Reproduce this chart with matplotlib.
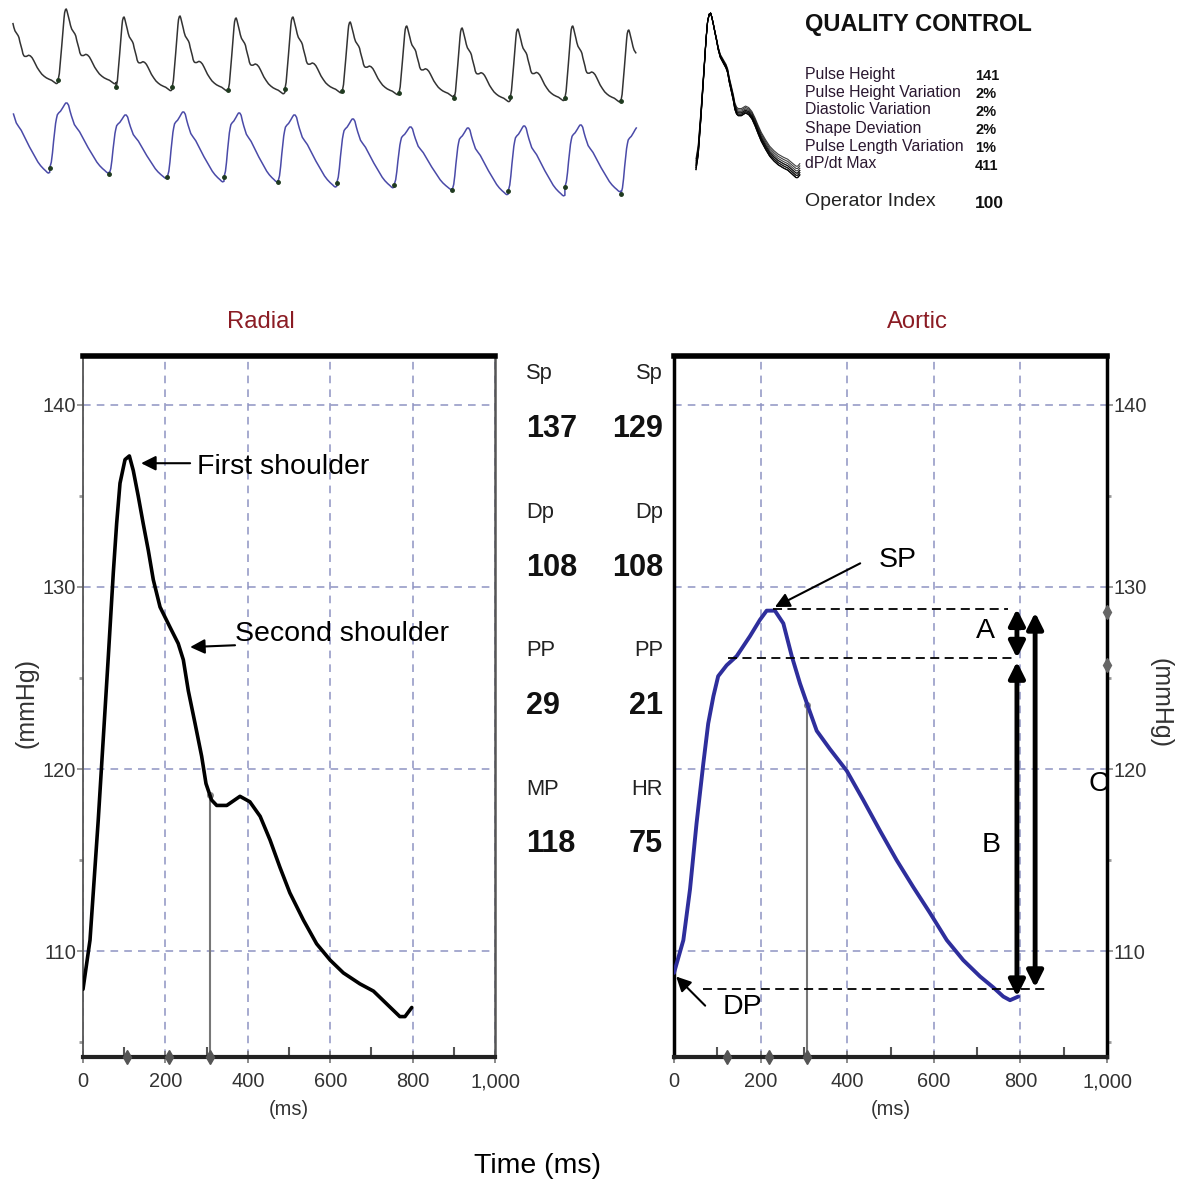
import numpy as np
import matplotlib
matplotlib.use("Agg")
import matplotlib.pyplot as plt
from matplotlib import font_manager
from matplotlib.transforms import blended_transform_factory

# ---------------- data ----------------
# averaged radial pulse (ms, mmHg)
radial_t = [0, 17, 37, 49, 61.5, 73.6, 81.7, 89.8, 102, 112.5, 122, 134, 146, 158.6, 170.6,
            187, 211, 231, 243.5, 255.6, 272, 288, 298.5, 312, 324.5, 349, 381, 405, 430,
            454, 478, 502, 535, 567, 600, 632, 672, 705, 737, 769, 781.5, 798]
radial_p = [107.9, 110.6, 117.2, 121.6, 126.2, 130.8, 133.5, 135.7, 137.0, 137.2, 136.4,
            135.0, 133.5, 132.0, 130.4, 128.9, 127.8, 126.9, 126.0, 124.3, 122.5, 120.7,
            119.2, 118.3, 118.0, 118.0, 118.5, 118.2, 117.4, 116.1, 114.6, 113.2, 111.7,
            110.4, 109.5, 108.8, 108.2, 107.8, 107.1, 106.4, 106.4, 106.9]

# derived aortic pulse (ms, mmHg)
aortic_t = [0, 21.6, 37, 52, 67.7, 79, 91, 102, 121.6, 144.7, 175.5, 198.6, 214, 233,
            252.5, 272, 291, 310, 329.6, 360, 399, 437, 476, 514, 553, 591, 630, 668, 707,
            737.5, 760.5, 776, 795]
aortic_p = [108.8, 110.6, 113.4, 117.0, 120.3, 122.5, 124.0, 125.1, 125.7, 126.2, 127.3,
            128.2, 128.7, 128.7, 128.0, 126.2, 124.7, 123.4, 122.1, 121.1, 119.9, 118.3,
            116.6, 115.0, 113.5, 112.1, 110.6, 109.5, 108.6, 108.0, 107.5, 107.3, 107.5]

radial_marks = [107, 209, 308]
aortic_marks = [122, 219, 308]
aortic_side_marks = [128.6, 125.7]
t1_time = 308

# beat-by-beat strip at the top (foot time in s, foot / peak level)
strip_r_feet_t = [0.83, 1.66, 2.46, 3.26, 4.07, 4.89, 5.70, 6.49, 7.29, 8.07, 8.87]
strip_r_feet_v = [111.6, 108.8, 108.8, 107.6, 108.0, 107.2, 106.4, 104.4, 104.8, 104.4, 103.2]
strip_r_peak_v = [140.0, 136.8, 137.2, 136.4, 136.8, 134.8, 133.2, 132.4, 132.0, 133.2, 131.6]
strip_a_feet_t = [0.71, 1.56, 2.39, 3.20, 3.97, 4.81, 5.63, 6.46, 7.26, 8.07, 8.87]
strip_a_feet_v = [103.0, 100.6, 99.4, 99.4, 97.4, 97.0, 96.2, 94.2, 93.8, 95.4, 92.6]
strip_a_peak_v = [129.0, 124.2, 125.4, 125.0, 124.2, 122.6, 119.4, 119.0, 119.8, 120.2, 119.0]
strip_start, strip_end = 0.18, 9.10

radial_params = [("Sp", "137"), ("Dp", "108"), ("PP", "29"), ("MP", "118")]
aortic_params = [("Sp", "129"), ("Dp", "108"), ("PP", "21"), ("HR", "75")]

qc_labels = ["Pulse Height", "Pulse Height Variation", "Diastolic Variation",
             "Shape Deviation", "Pulse Length Variation", "dP/dt Max"]
qc_values = ["141", "2%", "2%", "2%", "1%", "411"]
operator_index = "100"

x_ticks = [0, 200, 400, 600, 800, 1000]
x_tick_labels = ["0", "200", "400", "600", "800", "1,000"]
y_ticks = [110, 120, 130, 140]

# ---------------- fonts ----------------
installed = {f.name for f in font_manager.fontManager.ttflist}
NARROW = "Liberation Sans Narrow" if "Liberation Sans Narrow" in installed else "Liberation Sans"
SQ = 1.0 if NARROW.endswith("Narrow") else 0.9
SANS = "Liberation Sans"
plt.rcParams["font.family"] = [SANS, "DejaVu Sans"]

FW, FH = 1179, 1182
fig = plt.figure(figsize=(FW / 100, FH / 100), dpi=100)


def px_axes(x0, y0, x1, y1):
    return fig.add_axes([x0 / FW, 1 - y1 / FH, (x1 - x0) / FW, (y1 - y0) / FH])


def ftext(x, y, s, **kw):
    fig.text(x / FW, 1 - y / FH, s, **kw)


# ---------------- top strips ----------------
def build_strip(feet_t, feet_v, peak_v, tmpl_t, tmpl_v, lead_foot, lead_peak):
    tmpl_t = np.asarray(tmpl_t, float)
    tmpl_v = np.asarray(tmpl_v, float)
    shape = (tmpl_v - tmpl_v[0]) / (tmpl_v.max() - tmpl_v[0])
    period = np.mean(np.diff(feet_t))
    onsets = [feet_t[0] - period] + list(feet_t)
    foots = [lead_foot] + list(feet_v)
    peaks = [lead_peak] + list(peak_v)
    xs, ys = [], []
    for i, (t0, fv, pv) in enumerate(zip(onsets, foots, peaks)):
        t1 = onsets[i + 1] if i + 1 < len(onsets) else t0 + period
        t = t0 + tmpl_t / tmpl_t[-1] * (t1 - t0)
        v = fv + shape * (pv - fv)
        keep = (t >= strip_start) & (t <= strip_end)
        xs.append(t[keep])
        ys.append(v[keep])
    return np.concatenate(xs), np.concatenate(ys)


ax_sr = px_axes(0, 0, 650, 110)
x, y = build_strip(strip_r_feet_t, strip_r_feet_v, strip_r_peak_v, radial_t, radial_p, 111.6, 139.0)
ax_sr.plot(x, y, color="#333333", lw=1.1)
ax_sr.plot(strip_r_feet_t, strip_r_feet_v, "o", ms=2.5, color="#1f3a1f")
ax_sr.set_xlim(0, 650 / 70)
ax_sr.set_ylim(99.6, 143.6)
ax_sr.axis("off")

ax_sa = px_axes(0, 95, 650, 200)
x, y = build_strip(strip_a_feet_t, strip_a_feet_v, strip_a_peak_v, aortic_t, aortic_p, 103.0, 130.0)
ax_sa.plot(x, y, color="#4a4aa8", lw=1.1)
ax_sa.plot(strip_a_feet_t, strip_a_feet_v, "o", ms=2.5, color="#1f3a1f")
ax_sa.set_xlim(0, 650 / 70)
ax_sa.set_ylim(90.2, 132.2)
ax_sa.axis("off")

# overlaid pulses for quality control
ax_qc = px_axes(690, 5, 805, 200)
shape_r = (np.array(radial_p) - radial_p[0]) / (max(radial_p) - radial_p[0])
for fv, pv in zip(strip_r_feet_v[:10], strip_r_peak_v[:10]):
    ax_qc.plot(radial_t, fv + shape_r * (pv - fv) - pv, color="black", lw=0.8, alpha=0.75)
ax_qc.set_xlim(-46, 838)
ax_qc.set_ylim(-34.4, 1.5)
ax_qc.axis("off")

ftext(805, 25, "QUALITY CONTROL", fontsize=17, fontweight="bold", va="center", color="#111")
for i, (lab, val) in enumerate(zip(qc_labels, qc_values)):
    ftext(805, 74 + 18 * i, lab, fontsize=11.4, va="center", color="#2a1830")
    ftext(975, 76 + 18 * i, val, fontsize=10.5, fontweight="bold", va="center", color="#111")
ftext(805, 201, "Operator Index", fontsize=14, va="center", color="#222")
ftext(975, 203, operator_index, fontsize=12.5, fontweight="bold", va="center", color="#111")

# ---------------- main panels ----------------
GRID = "#8e93c2"
TICK_FS = 16 * SQ


def setup_panel(ax, right):
    ax.set_xlim(0, 1000)
    ax.set_ylim(104.18, 142.69)
    ax.set_xticks(x_ticks)
    ax.set_xticklabels(x_tick_labels, fontfamily=NARROW)
    ax.set_xticks(range(100, 1000, 200), minor=True)
    ax.set_yticks(y_ticks)
    ax.set_yticklabels([str(v) for v in y_ticks], fontfamily=NARROW)
    ax.set_yticks([105, 115, 125, 135], minor=True)
    ax.grid(True, which="major", color=GRID, linestyle=(0, (5, 4)), linewidth=1.1)
    ax.set_axisbelow(True)
    ax.spines["top"].set_linewidth(4)
    ax.spines["top"].set_color("black")
    ax.spines["bottom"].set_linewidth(3)
    ax.spines["bottom"].set_color("#222")
    if right:
        ax.yaxis.tick_right()
        ax.spines["left"].set_linewidth(2.5)
        ax.spines["left"].set_color("black")
        ax.spines["right"].set_linewidth(2.5)
        ax.spines["right"].set_color("black")
    else:
        ax.spines["left"].set_linewidth(1.3)
        ax.spines["left"].set_color("#555")
        ax.spines["right"].set_linewidth(1.8)
        ax.spines["right"].set_color("#555")
    ax.tick_params(axis="x", which="major", direction="inout", length=8, width=1.2,
                   color="#777", labelsize=TICK_FS, labelcolor="#333", pad=7)
    ax.tick_params(axis="x", which="minor", direction="in", length=7, width=1.5, color="#555")
    ax.tick_params(axis="y", which="major", direction="out", length=4, width=1.2,
                   color="#888", labelsize=TICK_FS, labelcolor="#333", pad=1)
    ax.tick_params(axis="y", which="minor", direction="out", length=3, width=2, color="#999")
    ax.set_xlabel("(ms)", fontsize=TICK_FS, fontfamily=NARROW, color="#333", labelpad=6)


ax_r = px_axes(83, 356, 495, 1057)
setup_panel(ax_r, right=False)
ax_r.plot(radial_t, radial_p, color="black", lw=2.6, solid_capstyle="round",
          solid_joinstyle="round", zorder=4)
y_t1 = np.interp(t1_time, radial_t, radial_p)
ax_r.plot([t1_time, t1_time], [104.18, y_t1], color="#777", lw=1.5, zorder=3)
ax_r.plot([t1_time], [y_t1], "o", ms=4, color="#888", zorder=3)
ax_r.plot(radial_marks, [104.18] * 3, "d", ms=7, color="#555", clip_on=False, zorder=5)

ax_a = px_axes(674, 356, 1107, 1057)
setup_panel(ax_a, right=True)
ax_a.plot(aortic_t, aortic_p, color="#2e2e9c", lw=2.8, solid_capstyle="round",
          solid_joinstyle="round", zorder=4)
y_t1 = np.interp(t1_time, aortic_t, aortic_p)
ax_a.plot([t1_time, t1_time], [104.18, y_t1], color="#777", lw=1.5, zorder=3)
ax_a.plot([t1_time], [y_t1], "o", ms=4, color="#888", zorder=3)
ax_a.plot(aortic_marks, [104.18] * 3, "d", ms=7, color="#555", clip_on=False, zorder=5)
ax_a.plot([1000] * 2, aortic_side_marks, "d", ms=7, color="#666", clip_on=False, zorder=5)

# titles
for ax, title, xc in [(ax_r, "Radial", 432), (ax_a, "Aortic", 563)]:
    tr = blended_transform_factory(ax.transData, ax.transAxes)
    ax.text(xc, 1.048, title, transform=tr, ha="center", va="center",
            fontsize=19 * SQ, fontfamily=NARROW, color="#8b1c24")

ftext(27, 703, "(mmHg)", rotation=90, ha="center", va="center",
      fontsize=20 * SQ, fontfamily=NARROW, color="#333")
ftext(1160, 703, "(mmHg)", rotation=270, ha="center", va="center",
      fontsize=20 * SQ, fontfamily=NARROW, color="#333")
ftext(538, 1166, "Time (ms)", ha="center", va="center", fontsize=20.5)

# numeric summary
for i, ((lab_r, val_r), (lab_a, val_a)) in enumerate(zip(radial_params, aortic_params)):
    yl = 374 + 138.5 * i
    yv = 429 + 138.5 * i
    ftext(526, yl, lab_r, ha="left", va="center", fontsize=17.5 * SQ, fontfamily=NARROW, color="#222")
    ftext(663, yl, lab_a, ha="right", va="center", fontsize=17.5 * SQ, fontfamily=NARROW, color="#222")
    ftext(526, yv, val_r, ha="left", va="center", fontsize=24.5 * SQ, fontfamily=NARROW,
          fontweight="bold", color="#111")
    ftext(663, yv, val_a, ha="right", va="center", fontsize=24.5 * SQ, fontfamily=NARROW,
          fontweight="bold", color="#111")

# ---------------- annotations ----------------
ANN_FS = 20.5
thin = dict(arrowstyle="-|>", color="black", lw=1.5, mutation_scale=22, shrinkA=0, shrinkB=0)
ax_r.annotate("", xy=(141, 136.8), xytext=(260, 136.8), arrowprops=thin, zorder=6)
ax_r.text(277, 136.6, "First shoulder", fontsize=ANN_FS, va="center", ha="left", zorder=6)
ax_r.annotate("", xy=(260, 126.7), xytext=(369, 126.8), arrowprops=thin, zorder=6)
ax_r.text(369, 127.4, "Second shoulder", fontsize=ANN_FS, va="center", ha="left", zorder=6)

ax_a.annotate("", xy=(233, 128.9), xytext=(430, 131.3), arrowprops=thin, zorder=6)
ax_a.text(517, 131.5, "SP", fontsize=ANN_FS, va="center", ha="center", zorder=6)
ax_a.annotate("", xy=(5, 108.6), xytext=(72, 107.0), arrowprops=thin, zorder=6)
ax_a.text(159, 106.9, "DP", fontsize=ANN_FS, va="center", ha="center", zorder=6)

dash = dict(color="black", lw=1.3, linestyle=(0, (5, 3)), zorder=5)
ax_a.plot([229, 771], [128.8, 128.8], **dash)
ax_a.plot([125, 788], [126.1, 126.1], **dash)
ax_a.plot([67, 861], [107.9, 107.9], **dash)

thick = dict(arrowstyle="<|-|>", color="black", lw=3.5, mutation_scale=24, shrinkA=0, shrinkB=0)
ax_a.annotate("", xy=(792, 128.8), xytext=(792, 126.1), arrowprops=thick, zorder=6)
ax_a.annotate("", xy=(792, 125.9), xytext=(792, 107.5), arrowprops=thick, zorder=6)
ax_a.annotate("", xy=(834, 128.6), xytext=(834, 108.0), arrowprops=thick, zorder=6)
ax_a.text(720, 127.6, "A", fontsize=ANN_FS, va="center", ha="center", zorder=6)
ax_a.text(732, 115.8, "B", fontsize=ANN_FS, va="center", ha="center", zorder=6)
ax_a.text(982, 119.2, "C", fontsize=ANN_FS, va="center", ha="center", zorder=6, clip_on=False)

fig.savefig("out.png", dpi=100)
